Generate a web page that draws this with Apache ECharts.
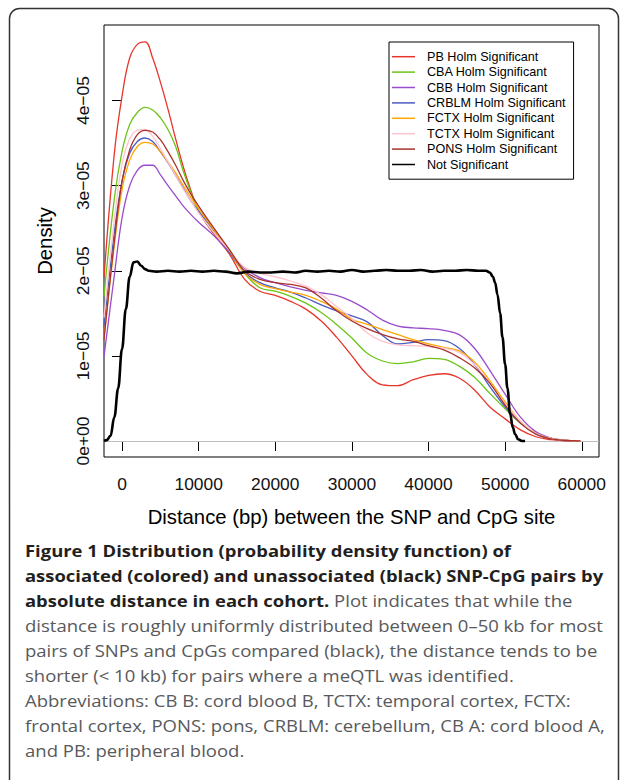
<!DOCTYPE html>
<html>
<head>
<meta charset="utf-8">
<script src="https://cdn.jsdelivr.net/npm/echarts@6/dist/echarts.min.js"></script>
<style>
html,body{margin:0;padding:0;background:#fff;}
#chart{width:627px;height:780px;}
</style>
</head>
<body>
<div id="chart"></div>
<script>
// ---- data (density values in units of 1e-05) ----
const distances = [-2350, -1000, 0, 1000, 2000, 3000, 4000, 5000, 6000, 7000, 8000, 9000, 10000, 12000, 14000, 16000, 18000, 20000, 22000, 24000, 26000, 28000, 30000, 32000, 34000, 36000, 38000, 40000, 42000, 44000, 46000, 48000, 50000, 52000, 54000, 56000, 58000, 59800];
const pbDensity    = [1.92, 3.38, 4.05, 4.50, 4.66, 4.69, 4.50, 4.22, 3.90, 3.55, 3.22, 2.94, 2.70, 2.43, 2.20, 1.90, 1.76, 1.71, 1.64, 1.55, 1.41, 1.22, 1.00, 0.78, 0.66, 0.65, 0.72, 0.77, 0.79, 0.74, 0.60, 0.40, 0.26, 0.13, 0.05, 0.015, 0.003, 0.0];
const cbaDensity   = [1.70, 2.85, 3.40, 3.72, 3.86, 3.92, 3.89, 3.80, 3.66, 3.46, 3.17, 2.92, 2.70, 2.45, 2.25, 1.97, 1.80, 1.76, 1.70, 1.62, 1.51, 1.37, 1.21, 1.03, 0.94, 0.91, 0.93, 0.97, 0.96, 0.88, 0.75, 0.56, 0.38, 0.21, 0.09, 0.03, 0.008, 0.0];
const cbbDensity   = [0.99, 1.95, 2.62, 3.00, 3.18, 3.24, 3.24, 3.13, 3.00, 2.88, 2.76, 2.66, 2.57, 2.41, 2.22, 2.03, 1.92, 1.86, 1.81, 1.77, 1.74, 1.71, 1.64, 1.54, 1.42, 1.35, 1.33, 1.32, 1.30, 1.25, 1.09, 0.83, 0.55, 0.28, 0.11, 0.035, 0.008, 0.0];
const crblmDensity = [1.34, 2.45, 3.05, 3.38, 3.52, 3.56, 3.52, 3.40, 3.27, 3.12, 2.97, 2.82, 2.70, 2.47, 2.22, 1.98, 1.86, 1.80, 1.75, 1.68, 1.60, 1.53, 1.47, 1.40, 1.24, 1.14, 1.16, 1.19, 1.18, 1.09, 0.90, 0.64, 0.40, 0.21, 0.09, 0.03, 0.008, 0.0];
const fctxDensity  = [1.20, 2.30, 2.95, 3.30, 3.46, 3.51, 3.49, 3.40, 3.28, 3.15, 3.00, 2.86, 2.73, 2.48, 2.24, 1.97, 1.84, 1.79, 1.75, 1.71, 1.64, 1.55, 1.43, 1.37, 1.31, 1.25, 1.19, 1.14, 1.10, 1.06, 0.93, 0.71, 0.46, 0.23, 0.09, 0.03, 0.008, 0.0];
const tctxDensity  = [1.45, 2.60, 3.25, 3.55, 3.65, 3.66, 3.58, 3.44, 3.28, 3.12, 2.96, 2.82, 2.68, 2.45, 2.24, 2.04, 1.97, 1.93, 1.88, 1.82, 1.72, 1.58, 1.44, 1.27, 1.17, 1.13, 1.12, 1.11, 1.09, 1.04, 0.90, 0.68, 0.44, 0.23, 0.09, 0.03, 0.008, 0.0];
const ponsDensity  = [1.19, 2.35, 3.05, 3.42, 3.60, 3.65, 3.63, 3.54, 3.40, 3.24, 3.06, 2.90, 2.76, 2.50, 2.25, 2.00, 1.90, 1.86, 1.84, 1.80, 1.68, 1.53, 1.41, 1.32, 1.25, 1.20, 1.17, 1.12, 1.07, 0.98, 0.86, 0.68, 0.42, 0.21, 0.08, 0.025, 0.006, 0.0];
const notSigDistances = [-2350, -2000, -1500, -1000, -500, 0, 500, 1000, 1500, 2000, 2500, 3000, 3500, 4500, 6000, 7500, 9000, 10500, 12000, 13500, 15000, 16500, 18000, 19500, 21000, 22500, 24000, 25500, 27000, 28500, 30000, 31500, 33000, 34500, 36000, 37500, 39000, 40500, 42000, 43500, 45000, 46500, 47500, 48000, 48400, 48700, 49000, 49350, 49650, 50000, 50300, 50650, 51000, 51300, 51700, 52200, 52600];
const notSigDensity   = [0.0, 0.01, 0.06, 0.28, 0.62, 1.08, 1.55, 1.93, 2.10, 2.11, 2.06, 2.02, 2.00, 1.99, 2.00, 1.99, 2.00, 1.99, 2.00, 1.99, 1.97, 1.99, 1.98, 1.98, 1.99, 1.98, 2.00, 1.99, 2.00, 1.99, 2.01, 1.99, 2.00, 2.01, 2.00, 2.00, 2.01, 1.99, 2.00, 2.00, 2.01, 2.00, 2.00, 1.98, 1.93, 1.86, 1.72, 1.50, 1.22, 0.90, 0.62, 0.32, 0.16, 0.08, 0.02, 0.0, 0.0];

const seriesNames = ['PB Holm Significant', 'CBA Holm Significant', 'CBB Holm Significant', 'CRBLM Holm Significant', 'FCTX Holm Significant', 'TCTX Holm Significant', 'PONS Holm Significant', 'Not Significant'];
const seriesColors = ['#e8352b', '#6cc417', '#9b4ccc', '#4c5cc0', '#ffa500', '#ffc4cf', '#a8322e', '#000000'];
const xTicks = [0, 10000, 20000, 30000, 40000, 50000, 60000];
const xTickLabels = ['0', '10000', '20000', '30000', '40000', '50000', '60000'];
const yTicks = [0, 1, 2, 3, 4];
const yTickLabels = ['0e+00', '1e\u221205', '2e\u221205', '3e\u221205', '4e\u221205'];
const xTitle = 'Distance (bp) between the SNP and CpG site';
const yTitle = 'Density';

const captionLines = [
  [['b', 'Figure 1 Distribution (probability density function) of']],
  [['b', 'associated (colored) and unassociated (black) SNP-CpG pairs by']],
  [['b', 'absolute distance in each cohort.'], ['r', ' Plot indicates that while the']],
  [['r', 'distance is roughly uniformly distributed between 0\u201350 kb for most']],
  [['r', 'pairs of SNPs and CpGs compared (black), the distance tends to be']],
  [['r', 'shorter (< 10 kb) for pairs where a meQTL was identified.']],
  [['r', 'Abbreviations: CB B: cord blood B, TCTX: temporal cortex, FCTX:']],
  [['r', 'frontal cortex, PONS: pons, CRBLM: cerebellum, CB A: cord blood A,']],
  [['r', 'and PB: peripheral blood.']]
];

// ---- build ----
const colored = [pbDensity, cbaDensity, cbbDensity, crblmDensity, fctxDensity, tctxDensity, ponsDensity];
const series = colored.map((arr, i) => ({
  name: seriesNames[i],
  type: 'line',
  data: distances.map((d, j) => [d, arr[j]]),
  smooth: 0.4,
  showSymbol: false,
  symbol: 'none',
  lineStyle: { color: seriesColors[i], width: 1.3 },
  itemStyle: { color: seriesColors[i] },
  z: 3
}));
series[0].markLine = {
  silent: true, symbol: ['none', 'none'], label: { show: false },
  lineStyle: { color: '#bebebe', width: 1, type: 'solid' },
  data: [{ yAxis: 0 }], z: 1
};
series.push({
  name: seriesNames[7],
  type: 'line',
  data: notSigDistances.map((d, j) => [d, notSigDensity[j]]),
  smooth: 0.4,
  smoothMonotone: 'x',
  showSymbol: false,
  symbol: 'none',
  lineStyle: { color: '#000', width: 2.6 },
  itemStyle: { color: '#000' },
  z: 4
});

// caption graphics
const FONT = '"Open Sans", "Noto Sans", sans-serif';
const CAP_SIZE = 16;
const cv = document.createElement('canvas').getContext('2d');
function measure(txt, weight) { cv.font = weight + ' ' + CAP_SIZE + 'px ' + FONT; return cv.measureText(txt).width; }
const boldScale = 578 / measure(captionLines[1][0][1], 'bold');
const regScale = 578 / measure(captionLines[3][0][1], 'normal');
const capGraphics = [];
const lineCenters = [551, 576, 601, 626, 650.5, 675.5, 700.5, 725.5, 750.5];
captionLines.forEach((parts, li) => {
  let x = 25;
  parts.forEach(([kind, txt]) => {
    const w = kind === 'b' ? 'bold' : 'normal';
    const s = kind === 'b' ? boldScale : regScale;
    capGraphics.push({
      type: 'text', x: x, y: lineCenters[li], scaleX: s, silent: true,
      style: { text: txt, fontFamily: FONT, fontSize: CAP_SIZE, fontWeight: w,
               fill: kind === 'b' ? '#231f20' : '#58595b', align: 'left', verticalAlign: 'middle' }
    });
    x += measure(txt, w) * s;
  });
});

const chart = echarts.init(document.getElementById('chart'), null, { renderer: 'svg' });
chart.setOption({
  animation: false,
  backgroundColor: '#fff',
  grid: { left: 104, right: 28, top: 25, bottom: 323, show: true, borderColor: '#000', borderWidth: 1, backgroundColor: 'transparent' },
  xAxis: {
    type: 'value', min: -2350, max: 62250,
    axisLine: { show: false },
    axisTick: { show: true, length: 10, lineStyle: { color: '#000', width: 1 }, customValues: xTicks },
    axisLabel: { customValues: xTicks, fontFamily: 'Liberation Sans', fontSize: 17.4, color: '#111', margin: 18,
                 formatter: v => xTickLabels[xTicks.indexOf(Math.round(v))] },
    splitLine: { show: false },
    name: xTitle, nameLocation: 'middle', nameGap: 50,
    nameTextStyle: { fontFamily: 'Liberation Sans', fontSize: 20.3, color: '#000' }
  },
  yAxis: {
    type: 'value', min: -0.188, max: 4.888,
    axisLine: { show: false },
    axisTick: { show: true, length: 10, lineStyle: { color: '#000', width: 1 }, customValues: yTicks },
    axisLabel: { customValues: yTicks, rotate: 90, fontFamily: 'Liberation Sans', fontSize: 17.4, color: '#111', margin: 13,
                 formatter: v => yTickLabels[yTicks.indexOf(Math.round(v))] },
    splitLine: { show: false },
    name: yTitle, nameLocation: 'middle', nameGap: 49, nameRotate: 90,
    nameTextStyle: { fontFamily: 'Liberation Sans', fontSize: 20.3, color: '#000' }
  },
  legend: {
    orient: 'vertical', left: 389, top: 42, padding: [7, 8, 7, 3],
    itemWidth: 23, itemHeight: 1.5, itemGap: 0, icon: 'rect',
    borderColor: '#000', borderWidth: 1, backgroundColor: '#fff',
    textStyle: { fontFamily: 'Liberation Sans', fontSize: 12.6, color: '#000', lineHeight: 15.4, padding: [0, 0, 0, 7] },
    data: seriesNames
  },
  graphic: [
    { type: 'rect', silent: true, shape: { x: 9.5, y: 8.5, width: 609, height: 820, r: 10 },
      style: { fill: 'none', stroke: '#333', lineWidth: 1.5 }, z: 0 }
  ].concat(capGraphics),
  series: series
});
</script>
</body>
</html>
